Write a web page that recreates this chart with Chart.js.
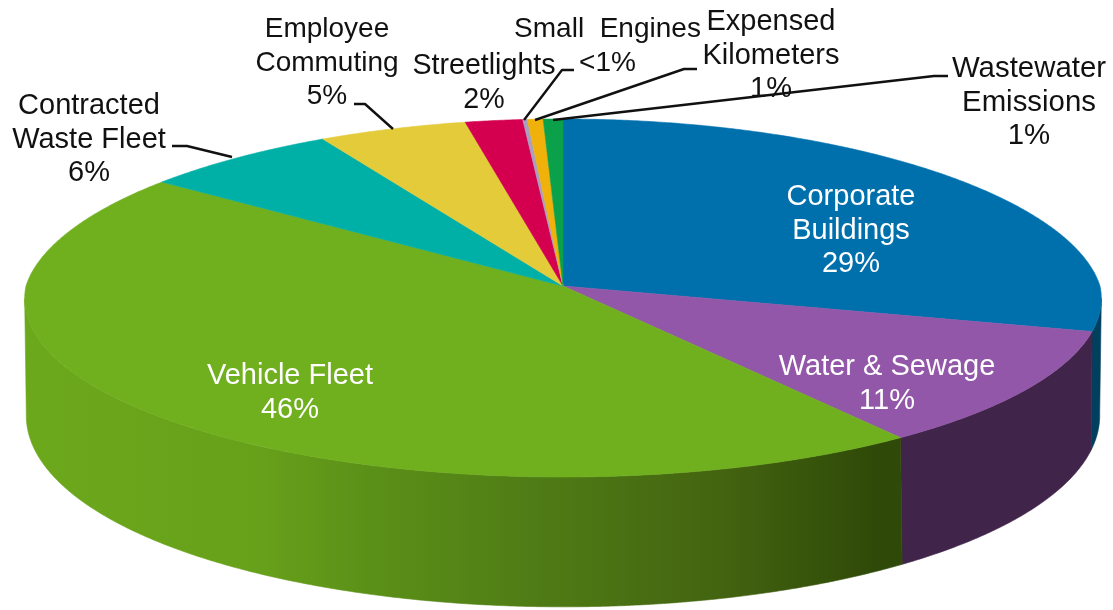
<!DOCTYPE html>
<html>
<head>
<meta charset="utf-8">
<style>
  html, body { margin: 0; padding: 0; background: #fff; }
  canvas { display: block; }
</style>
<script src="https://cdn.jsdelivr.net/npm/chart.js@4/dist/chart.umd.min.js"></script>
</head>
<body>
<canvas id="emissions" width="1113" height="610"></canvas>
<script>
// Emission sources, clockwise from twelve o'clock
const categories = ["Corporate Buildings", "Water & Sewage", "Vehicle Fleet", "Contracted Waste Fleet",
  "Employee Commuting", "Streetlights", "Small Engines", "Expensed Kilometers", "Wastewater Emissions"];
const shares = [29.05, 10.85, 45.5, 6.49, 4.9, 1.9, 0.15, 0.52, 0.65];
const shareLabels = ["29%", "11%", "46%", "6%", "5%", "2%", "<1%", "1%", "1%"];
const faceColors = ["#0070AD", "#9257A8", "#70B01E", "#00AFA5", "#E3CB3A", "#D4004F", "#A9A0C0", "#F0B10A", "#0BA14B"];
const wallColors = ["#013F5F", "#40244A", null, "#008078", "#A8962A", "#9C003A", "#7C7690", "#B08208", "#087636"];
const fleetWallStops = [[0, "#6CA81C"], [0.27, "#67A01A"], [0.4, "#5A8F18"], [0.6, "#4E7A15"], [0.8, "#436310"], [0.97, "#2F4A08"], [1, "#2F4A08"]];

// Text blocks: lines, centre x, first baseline, colour, font size
const labelBlocks = [
  { lines: ["Corporate", "Buildings", shareLabels[0]], x: 851, y: 205, color: "#fff", size: 29 },
  { lines: ["Water & Sewage", shareLabels[1]], x: 887, y: 375, color: "#fff", size: 29 },
  { lines: ["Vehicle Fleet", shareLabels[2]], x: 290, y: 384, color: "#fff", size: 29 },
  { lines: ["Contracted", "Waste Fleet", shareLabels[3]], x: 89, y: 114, color: "#111", size: 29 },
  { lines: ["Employee", "Commuting", shareLabels[4]], x: 327, y: 37, color: "#111", size: 28 },
  { lines: ["Streetlights", shareLabels[5]], x: 484, y: 74, color: "#111", size: 28.6 },
  { lines: ["Small  Engines", shareLabels[6]], x: 607.5, y: 37, color: "#111", size: 28 },
  { lines: ["Expensed", "Kilometers", shareLabels[7]], x: 771, y: 30, color: "#111", size: 29 },
  { lines: ["Wastewater", "Emissions", shareLabels[8]], x: 1029, y: 77, color: "#111", size: 29.4 }
];
const leaderLines = [
  [[172, 146], [187, 146], [232, 157]],
  [[354, 104], [365, 104], [393, 129]],
  [[574, 70], [562, 70], [524, 120]],
  [[697, 69], [684, 69], [535, 120]],
  [[948, 76], [934, 76], [553, 120]]
];

// Perspective of the disc: the rim is a projected circle, the base sits lower and opens wider.
// Width shrinks a little faster towards the back of the disc than it grows towards the front.
const DEG = Math.PI / 180;
const TILT = {
  rx: 537 / 286, ry: 178.2 / 286, p: 0.067, backQ: 0.105, frontQ: 0.07,
  baseRx: 535 / 286, baseRy: 193.6 / 286, baseP: 0.064, baseQ: 0.08, drop: 114
};
const VISIBLE_FROM = 4 * DEG, VISIBLE_TO = 176 * DEG;

function rimPoint(el, a, base) {
  const u = Math.cos(a), v = Math.sin(a), r = el.outerRadius;
  if (base) {
    return [el.x + r * TILT.baseRx * u / (1 - TILT.baseQ * v),
            el.y + TILT.drop + r * TILT.baseRy * v / (1 - TILT.baseP * v)];
  }
  const q = v < 0 ? TILT.backQ : TILT.frontQ;
  return [el.x + r * TILT.rx * u / (1 - q * v), el.y + r * TILT.ry * v / (1 - TILT.p * v)];
}
function traceRim(ctx, el, from, to, base) {
  const n = Math.max(2, Math.ceil(Math.abs(to - from) / (0.4 * DEG)));
  for (let i = 0; i <= n; i++) {
    const p = rimPoint(el, from + (to - from) * i / n, base);
    ctx.lineTo(p[0], p[1]);
  }
}

const tiltedPie = {
  id: "tiltedPie",
  // Replaces the flat arcs with a walled, tilted disc built from each arc's own angles
  beforeDatasetDraw(chart, args) {
    const ctx = chart.ctx, arcs = args.meta.data;
    ctx.save();
    ctx.lineWidth = 0.6;
    arcs.forEach((el, i) => {
      const a = Math.max(el.startAngle, VISIBLE_FROM), b = Math.min(el.endAngle, VISIBLE_TO);
      if (b <= a) return;
      let fill = wallColors[i];
      if (!fill) {
        fill = ctx.createLinearGradient(27, 0, 901, 0);
        fleetWallStops.forEach(s => fill.addColorStop(s[0], s[1]));
      }
      ctx.beginPath();
      traceRim(ctx, el, a, b, false);
      traceRim(ctx, el, b, a, true);
      ctx.closePath();
      ctx.fillStyle = fill;
      ctx.strokeStyle = fill;
      ctx.fill();
      ctx.stroke();
    });
    arcs.forEach((el, i) => {
      ctx.beginPath();
      ctx.moveTo(el.x, el.y);
      traceRim(ctx, el, el.startAngle, el.endAngle, false);
      ctx.closePath();
      ctx.fillStyle = faceColors[i];
      ctx.strokeStyle = faceColors[i];
      ctx.fill();
      ctx.stroke();
    });
    ctx.restore();
    return false;
  },
  afterDatasetsDraw(chart) {
    const ctx = chart.ctx;
    ctx.save();
    ctx.strokeStyle = "#111";
    ctx.lineWidth = 2.4;
    ctx.lineJoin = "round";
    leaderLines.forEach(pts => {
      ctx.beginPath();
      pts.forEach((p, i) => i ? ctx.lineTo(p[0], p[1]) : ctx.moveTo(p[0], p[1]));
      ctx.stroke();
    });
    ctx.textAlign = "center";
    ctx.textBaseline = "alphabetic";
    labelBlocks.forEach(block => {
      ctx.font = block.size + "px 'Liberation Sans', Arial, sans-serif";
      ctx.fillStyle = block.color;
      block.lines.forEach((line, i) => ctx.fillText(line, block.x, block.y + i * 33.5));
    });
    ctx.restore();
  }
};

new Chart(document.getElementById("emissions"), {
  type: "pie",
  data: {
    labels: categories,
    datasets: [{ data: shares, backgroundColor: faceColors, borderWidth: 0 }]
  },
  plugins: [tiltedPie],
  options: {
    responsive: false,
    animation: false,
    layout: { padding: { left: 13, top: 0, right: 0, bottom: 38 } },
    plugins: { legend: { display: false }, tooltip: { enabled: false } }
  }
});
</script>
</body>
</html>
